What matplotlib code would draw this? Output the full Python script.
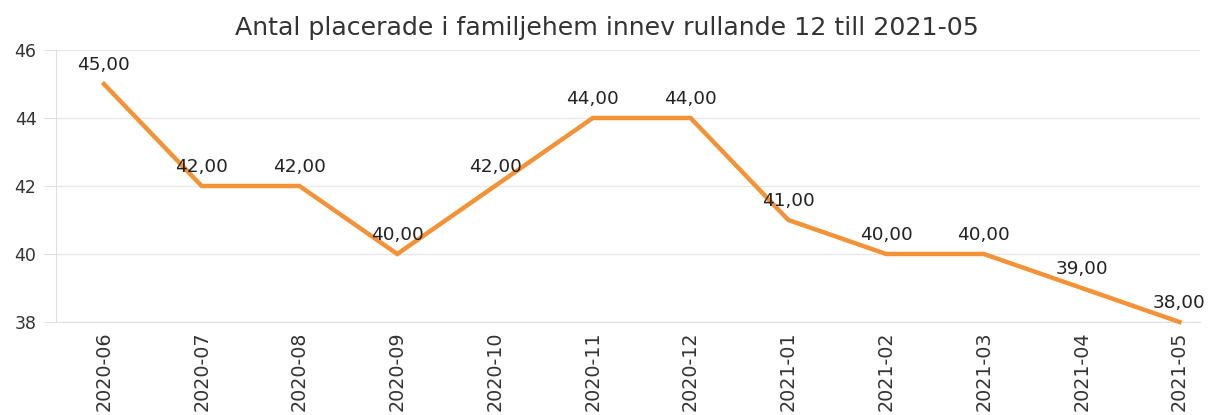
import matplotlib
matplotlib.use("Agg")
import matplotlib.pyplot as plt

months = ["2020-06", "2020-07", "2020-08", "2020-09", "2020-10", "2020-11",
          "2020-12", "2021-01", "2021-02", "2021-03", "2021-04", "2021-05"]
values = [45, 42, 42, 40, 42, 44, 44, 41, 40, 40, 39, 38]
yticks = [38, 40, 42, 44, 46]
title = "Antal placerade i familjehem innev rullande 12 till 2021-05"

plt.rcParams['font.family'] = ['DejaVu Sans']
fig = plt.figure(figsize=(12.13, 4.15), dpi=100)
ax = fig.add_axes([56/1213, 93/415, (1200-56)/1213, 272/415])

x = list(range(len(months)))
ax.plot(x, values, color="#F39237", lw=3.2, solid_joinstyle="miter", zorder=3, clip_on=False)

for i, v in zip(x, values):
    ax.annotate(f"{v:.2f}".replace(".", ","), (i, v), xytext=(0, 10),
                textcoords="offset pixels", ha="center", va="bottom",
                fontsize=13.3, color="#222222", zorder=4, annotation_clip=False)

ax.set_xlim(-0.49, 11.21)
ax.set_ylim(38, 46)
ax.set_yticks(yticks)
ax.set_xticks(x)
ax.set_xticklabels(months, rotation=90, fontsize=13.8, color="#333333")
ax.tick_params(axis="x", length=0, pad=7)
ax.tick_params(axis="y", length=9, color="#e0e0e0", labelsize=12.5, labelcolor="#333333", pad=5)
ax.grid(axis="y", color="#e8e8e8", lw=1)
ax.set_axisbelow(True)
for s in ["top", "right"]:
    ax.spines[s].set_visible(False)
for s in ["left", "bottom"]:
    ax.spines[s].set_color("#e0e0e0")
fig.text(0.5, 1 - 28/415, title, fontsize=18.2, color="#333333", ha="center", va="center")

fig.savefig("out.png", dpi=100)
